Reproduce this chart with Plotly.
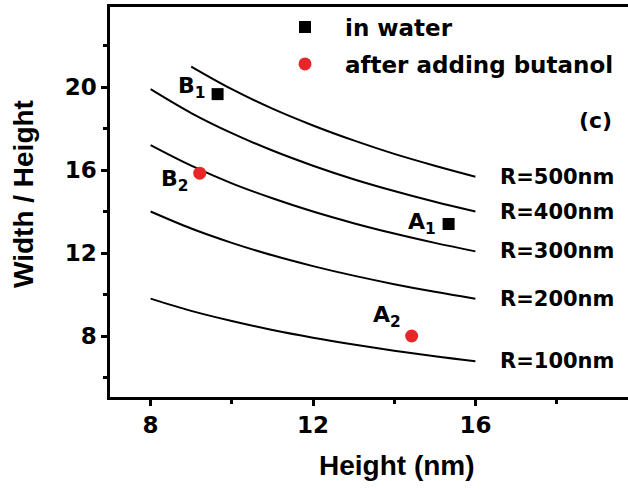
import plotly.graph_objects as go

# Curve data (Width/Height vs Height) for different radii R
h_full = [8, 9, 10, 11, 12, 13, 14, 15, 16]
h_500 = [9, 10, 11, 12, 13, 14, 15, 16]
wh_100 = [9.80, 9.21, 8.72, 8.29, 7.92, 7.59, 7.29, 7.02, 6.78]
wh_200 = [14.00, 13.18, 12.49, 11.89, 11.37, 10.91, 10.50, 10.13, 9.80]
wh_300 = [17.20, 16.21, 15.36, 14.64, 14.00, 13.44, 12.94, 12.49, 12.08]
wh_400 = [19.90, 18.75, 17.78, 16.94, 16.21, 15.56, 14.99, 14.47, 14.00]
wh_500 = [20.99, 19.90, 18.96, 18.15, 17.43, 16.78, 16.21, 15.68]
curve_labels = ["R=100nm", "R=200nm", "R=300nm", "R=400nm", "R=500nm"]

# Measured points
water_x = [9.65, 15.34]
water_y = [19.66, 13.40]
water_labels = ["B<sub>1</sub>", "A<sub>1</sub>"]
butanol_x = [9.21, 14.43]
butanol_y = [15.85, 8.00]
butanol_labels = ["B<sub>2</sub>", "A<sub>2</sub>"]

FONT = "DejaVu Sans"
TITLE_FONT = "Liberation Sans"
RED = "#e8262a"

W, H = 628, 489
L, R_, T, B = 110, 0, 7, 92
pw, ph = W - L - R_, H - T - B


def px(xp):
    return (xp - L) / pw


def py(yp):
    return (H - B - yp) / ph


fig = go.Figure()

curves = [(h_full, wh_100), (h_full, wh_200), (h_full, wh_300), (h_full, wh_400), (h_500, wh_500)]
for (xs, ys), lab in zip(curves, curve_labels):
    fig.add_trace(go.Scatter(x=xs, y=ys, mode="lines", line=dict(color="black", width=2, shape="spline"),
                             showlegend=False, name=lab))
    fig.add_annotation(x=16.55, y=ys[-1], text="<b>%s</b>" % lab, showarrow=False, xanchor="left",
                       yanchor="middle", font=dict(family=FONT, size=21, color="black"))

fig.add_trace(go.Scatter(x=water_x, y=water_y, mode="markers", name="in water",
                         marker=dict(symbol="square", size=12, color="black"), legend="legend"))
fig.add_trace(go.Scatter(x=butanol_x, y=butanol_y, mode="markers", name="after adding butanol",
                         marker=dict(symbol="circle", size=13, color=RED), legend="legend2"))

# point labels (B1, A1, B2, A2)
label_pos = {"B<sub>1</sub>": (9.41, 20.0), "A<sub>1</sub>": (15.08, 13.4),
             "B<sub>2</sub>": (8.99, 15.5), "A<sub>2</sub>": (14.22, 8.95)}
for lab in water_labels + butanol_labels:
    x, y = label_pos[lab]
    fig.add_annotation(x=x, y=y, text="<b>%s</b>" % lab, showarrow=False, xanchor="right", yanchor="middle",
                       font=dict(family=FONT, size=22, color="black"))

fig.add_annotation(x=px(595), y=py(121), xref="paper", yref="paper", text="<b>(c)</b>", showarrow=False,
                   xanchor="center", yanchor="middle", font=dict(family=FONT, size=22, color="black"))
fig.add_annotation(x=px(397), y=py(465), xref="paper", yref="paper", text="<b>Height (nm)</b>",
                   showarrow=False, xanchor="center", yanchor="middle",
                   font=dict(family=TITLE_FONT, size=28, color="black"))
fig.add_annotation(x=px(24), y=py(194), xref="paper", yref="paper", text="<b>Width / Height</b>",
                   showarrow=False, textangle=-90, xanchor="center", yanchor="middle",
                   font=dict(family=TITLE_FONT, size=28, color="black"))

axis_common = dict(showline=True, linecolor="black", linewidth=2.5, ticks="outside", tickwidth=2.5,
                   ticklen=6, tickcolor="black", showgrid=False, zeroline=False,
                   tickprefix="<b>", ticksuffix="</b>",
                   tickfont=dict(family=FONT, size=23, color="black", weight="bold"))

fig.update_layout(
    width=W, height=H, margin=dict(l=L, r=R_, t=T, b=B),
    plot_bgcolor="white", paper_bgcolor="white",
    xaxis=dict(range=[7, 7 + pw / 40.6], tick0=0, dtick=4, mirror=True,
               minor=dict(dtick=2, ticks="outside", ticklen=4, tickwidth=2.5, tickcolor="black"),
               **axis_common),
    yaxis=dict(range=[5.06, 23.86], tick0=0, dtick=4,
               minor=dict(dtick=2, ticks="outside", ticklen=4, tickwidth=2.5, tickcolor="black"),
               **axis_common),
    legend=dict(x=px(265), y=py(27), xanchor="left", yanchor="middle", itemwidth=70,
                bgcolor="rgba(0,0,0,0)", font=dict(family=FONT, size=23, color="black", weight="bold")),
    legend2=dict(x=px(265), y=py(64), xanchor="left", yanchor="middle", itemwidth=70,
                 bgcolor="rgba(0,0,0,0)", font=dict(family=FONT, size=23, color="black", weight="bold")),
)

fig.write_html("out.html")
